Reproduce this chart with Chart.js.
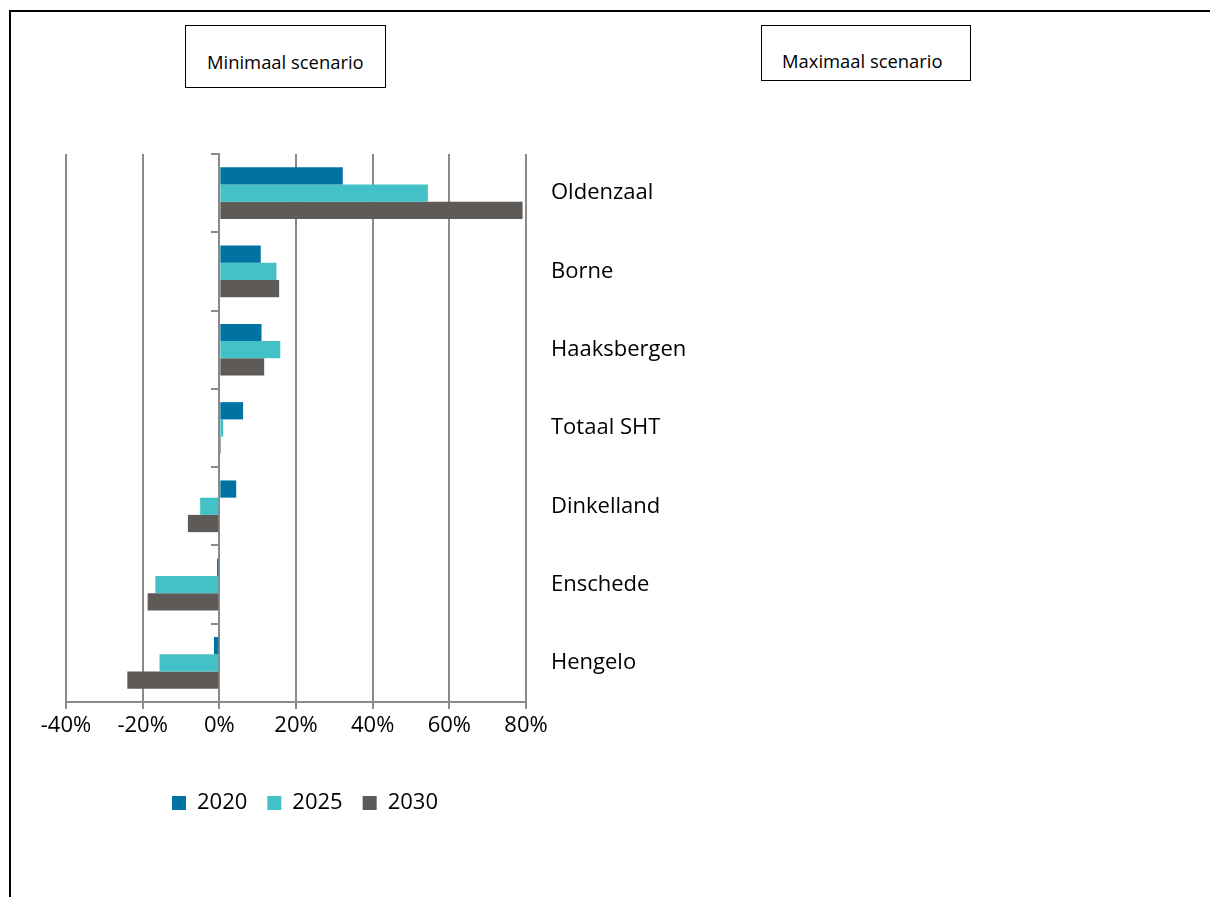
<!DOCTYPE html>
<html>
<head>
<meta charset="utf-8">
<script src="https://cdn.jsdelivr.net/npm/chart.js@4.4.1/dist/chart.umd.min.js"></script>
<style>
html,body{margin:0;padding:0;background:#fff;overflow:hidden;width:1210px;height:897px;}
#frame{position:absolute;left:9px;top:10px;width:1300px;height:1000px;border:2px solid #000;box-sizing:border-box;}
.scen{position:absolute;border:1.5px solid #000;box-sizing:border-box;background:#fff;font-family:'Open Sans',sans-serif;font-size:18.4px;color:#000;white-space:nowrap;}
#minbox{left:185px;top:25px;width:201px;height:63px;}
#minbox span{position:absolute;left:21px;top:23px;}
#maxbox{left:761px;top:25px;width:210px;height:56px;}
#maxbox span{position:absolute;left:20px;top:22px;}
#wrap{position:absolute;left:0;top:0;width:1210px;height:897px;}
</style>
</head>
<body>
<div id="frame"></div>
<div class="scen" id="minbox"><span>Minimaal scenario</span></div>
<div class="scen" id="maxbox"><span>Maximaal scenario</span></div>
<div id="wrap"><canvas id="c"></canvas></div>
<script>
const categories = ['Oldenzaal','Borne','Haaksbergen','Totaal SHT','Dinkelland','Enschede','Hengelo'];
const seriesNames = ['2020','2025','2030'];
const values2020 = [32.2, 10.8, 11.0, 6.2, 4.4, -0.6, -1.4];
const values2025 = [54.4, 14.9, 15.9, 1.0, -5.0, -16.7, -15.6];
const values2030 = [79.1, 15.6, 11.7, 0.4, -8.2, -18.7, -24.0];
const seriesColors = ['#0073A2', '#43C1C6', '#5E5A57'];
const xMin = -40, xMax = 80, xStep = 20;

Chart.defaults.font.family = "'Open Sans', sans-serif";
Chart.defaults.color = '#000';
const gridGray = '#8a8a8a';

new Chart(document.getElementById('c'), {
  type: 'bar',
  data: {
    labels: categories,
    datasets: [values2020, values2025, values2030].map((vals, i) => ({
      label: seriesNames[i],
      data: vals,
      backgroundColor: seriesColors[i],
      borderWidth: 0,
      categoryPercentage: 0.66,
      barPercentage: 1.0
    }))
  },
  options: {
    indexAxis: 'y',
    responsive: true,
    maintainAspectRatio: false,
    animation: false,
    layout: { padding: { left: 66, top: 154, right: 666, bottom: 73 } },
    scales: {
      x: {
        type: 'linear',
        position: 'bottom',
        min: xMin, max: xMax,
        ticks: {
          stepSize: xStep,
          callback: v => v + '%',
          font: { size: 22 },
          color: '#000',
          padding: 4,
          maxRotation: 0
        },
        grid: { color: gridGray, lineWidth: 2, tickLength: 7, drawTicks: true },
        border: { color: gridGray, width: 2 },
        afterFit: s => { s.height = 70; }
      },
      y: {
        type: 'category',
        position: { x: 0 },
        offset: true,
        ticks: { display: false },
        grid: { drawOnChartArea: false, drawTicks: true, tickLength: 7, color: gridGray, lineWidth: 2, offset: true },
        border: { display: true, color: gridGray, width: 2 }
      },
      y2: {
        type: 'category',
        position: 'left',
        offset: true,
        grid: { display: false, drawTicks: false },
        border: { display: false },
        ticks: { mirror: true, font: { size: 22 }, color: '#000', padding: 485 },
        afterFit: s => { s.width = 0; s.paddingTop = 0; s.paddingBottom = 0; }
      },
      y3: {
        type: 'category',
        position: 'right',
        grid: { display: false, drawTicks: false },
        border: { display: false },
        ticks: { display: false },
        afterFit: s => { s.width = 18; }
      }
    },
    plugins: {
      legend: {
        position: 'bottom',
        labels: {
          boxWidth: 14, boxHeight: 14, padding: 20,
          font: { size: 22 }, color: '#000'
        }
      },
      tooltip: { enabled: false }
    }
  }
});
</script>
</body>
</html>
